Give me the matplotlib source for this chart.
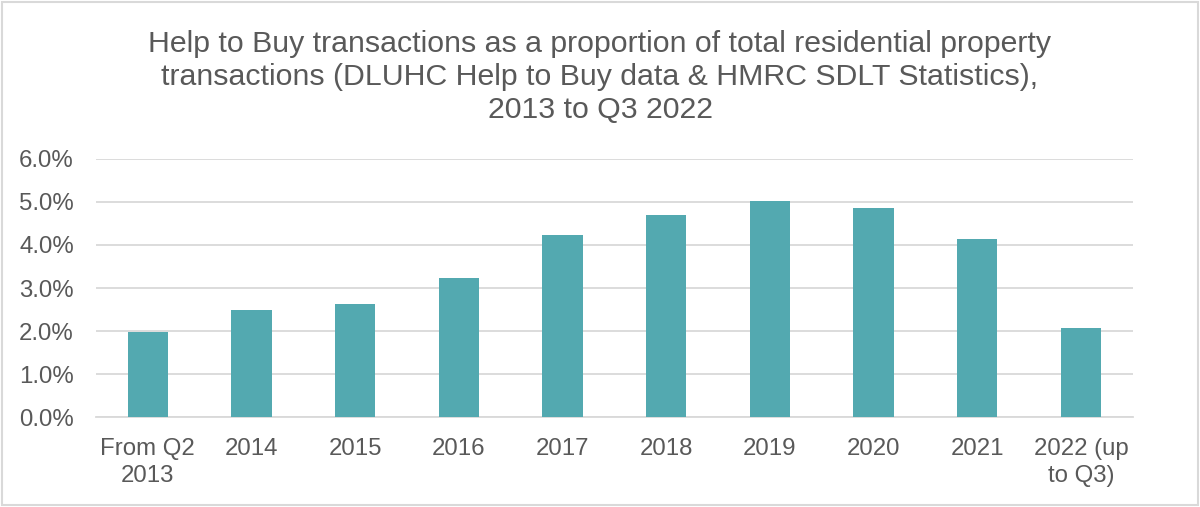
import matplotlib.pyplot as plt
from matplotlib.patches import Rectangle
from matplotlib.ticker import PercentFormatter

plt.rcParams["font.family"] = ["Liberation Sans", "DejaVu Sans"]

categorias = ["From Q2\n2013", "2014", "2015", "2016", "2017", "2018",
              "2019", "2020", "2021", "2022 (up\nto Q3)"]
proporcao = [1.97, 2.48, 2.62, 3.23, 4.23, 4.69, 5.03, 4.86, 4.14, 2.06]

cor_barra = "#53A9B0"
cor_texto = "#595959"

fig = plt.figure(figsize=(12, 5.07), dpi=100)
ax = fig.add_axes([0.08, 0.1775, 0.864, 0.5089])

x = range(len(categorias))
ax.bar(x, proporcao, width=0.39, color=cor_barra, zorder=3)

ax.set_ylim(0, 6)
ax.set_xlim(-0.5, len(categorias) - 0.5)
ax.set_yticks([0, 1, 2, 3, 4, 5, 6])
ax.yaxis.set_major_formatter(PercentFormatter(decimals=1))
ax.set_xticks(list(x))
ax.set_xticklabels(categorias, linespacing=1.3)
ax.grid(axis="y", color="#D9D9D9", linewidth=1.3, zorder=0)
for lado in ["top", "right", "left"]:
    ax.spines[lado].set_visible(False)
ax.spines["bottom"].set_color("#D9D9D9")
ax.spines["bottom"].set_linewidth(1.3)
ax.tick_params(axis="both", length=0, labelsize=17.3, labelcolor=cor_texto)
ax.tick_params(axis="y", pad=16)
ax.tick_params(axis="x", pad=15)

fig.text(0.5, 0.848,
         "Help to Buy transactions as a proportion of total residential property\n"
         "transactions (DLUHC Help to Buy data & HMRC SDLT Statistics),\n"
         "2013 to Q3 2022",
         ha="center", va="center", fontsize=21.8, color=cor_texto, linespacing=1.22)

# borda cinza em volta da figura
fig.patches.append(Rectangle((0.002, 0.003), 0.996, 0.994, transform=fig.transFigure,
                             fill=False, edgecolor="#D9D9D9", linewidth=1.5))

fig.savefig("out.png", dpi=100)
